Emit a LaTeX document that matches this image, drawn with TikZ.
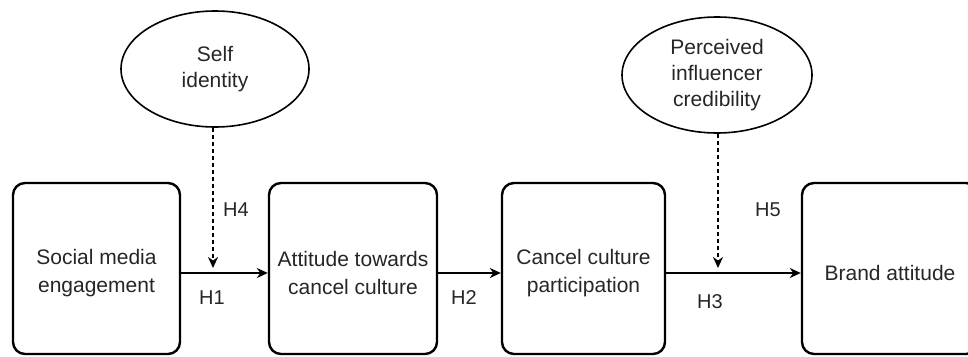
\documentclass[tikz,border=0pt]{standalone}
\usepackage{fontspec}
\setmainfont{Liberation Sans}
\usetikzlibrary{arrows.meta,shapes.geometric}
\begin{document}
\begin{tikzpicture}[x=1pt,y=-1pt,
  box/.style={draw=black, line width=2.4pt, rounded corners=12pt, inner sep=0pt},
  boxtext/.style={align=center, font=\fontsize{21}{28}\selectfont, text=black!85, inner sep=0pt, yshift=-4.5pt},
  oval/.style={draw=black, line width=1.6pt, ellipse, inner sep=0pt, align=center,
    font=\fontsize{21}{26}\selectfont, text=black!85},
  arr/.style={line width=2pt, -{Stealth[length=11pt,width=10pt]}},
  darr/.style={line width=2pt, dash pattern=on 4pt off 3pt, -{Stealth[length=11pt,width=10pt]}},
  hl/.style={font=\fontsize{20}{24}\selectfont, text=black!85}]
\useasboundingbox (0,0) rectangle (968,356);
\clip (0,0) rectangle (968,356);
% boxes
\node[box, minimum width=167pt, minimum height=171pt,
  label={[boxtext]center:Social media\\engagement}] (b1) at (96.5,268.5) {};
\node[box, minimum width=168pt, minimum height=171pt,
  label={[boxtext]center:Attitude towards\\cancel culture}] (b2) at (353,268.5) {};
\node[box, minimum width=163pt, minimum height=171pt,
  label={[boxtext]center:Cancel culture\\participation}] (b3) at (583.5,268.5) {};
\node[box, minimum width=176pt, minimum height=171pt,
  label={[boxtext]center:Brand attitude}] (b4) at (890,268.5) {};
% ovals
\node[oval, minimum width=188pt, minimum height=116pt] (e1) at (215,69) {Self\\identity};
\node[oval, minimum width=190pt, minimum height=116pt] (e2) at (717,75) {Perceived\\influencer\\credibility};
% junctions
\coordinate (j1) at (213,273);
\coordinate (j2) at (718,273);
\coordinate (j3) at (465,273);
% main arrows
\draw[arr] (b1.east |- j1) -- (b2.west |- j1);
\draw[arr] (b2.east |- j3) -- (b3.west |- j3);
\draw[arr] (b3.east |- j2) -- (b4.west |- j2);
% moderators
\draw[darr] (e1.south -| j1) -- ([yshift=5pt]j1);
\draw[darr] (e2.south -| j2) -- ([yshift=5pt]j2);
% labels
\node[hl] (h4) at (236,210) {H4};
\node[hl] (h1) at (212,298) {H1};
\node[hl] (h2) at (464,298) {H2};
\node[hl] (h3) at (710,302) {H3};
\node[hl] (h5) at (768,210) {H5};
\end{tikzpicture}
\end{document}
